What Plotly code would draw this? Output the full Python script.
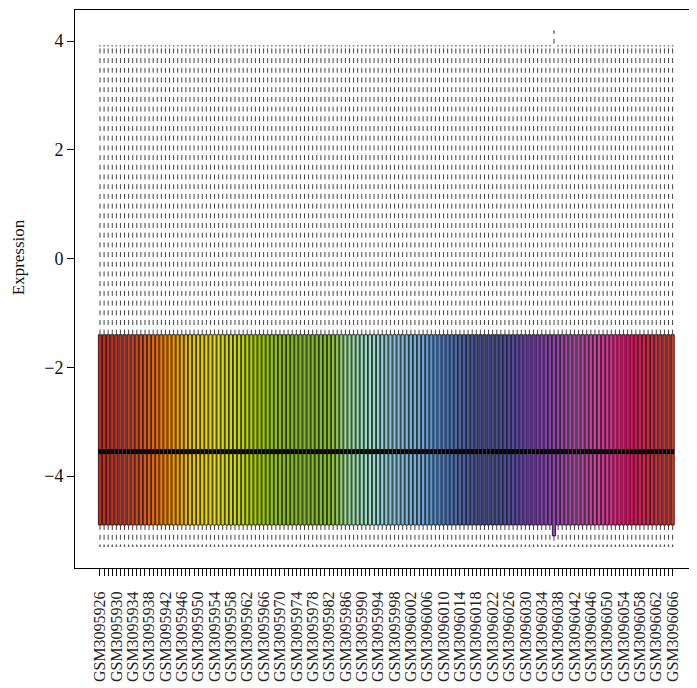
import plotly.graph_objects as go

# ---------------- data ----------------
sample_ids = ["GSM%d" % (3095926 + k) for k in range(141)]

upper_whisker = [
    3.91, 3.91, 3.91, 3.91, 3.91, 3.91, 3.91, 3.91, 3.91, 3.91, 3.91, 3.91, 3.91, 3.91, 3.91, 3.91, 3.91, 3.91, 3.91, 3.91,
    3.91, 3.91, 3.91, 3.91, 3.91, 3.91, 3.91, 3.91, 3.91, 3.91, 3.91, 3.91, 3.91, 3.91, 3.91, 3.91, 3.91, 3.91, 3.91, 3.91,
    3.91, 3.91, 3.91, 3.91, 3.91, 3.91, 3.91, 3.91, 3.91, 3.91, 3.91, 3.91, 3.91, 3.91, 3.91, 3.91, 3.91, 3.91, 3.91, 3.91,
    3.91, 3.91, 3.91, 3.91, 3.91, 3.91, 3.91, 3.91, 3.91, 3.91, 3.91, 3.91, 3.91, 3.91, 3.91, 3.91, 3.91, 3.91, 3.91, 3.91,
    3.91, 3.91, 3.91, 3.91, 3.91, 3.91, 3.91, 3.91, 3.91, 3.91, 3.91, 3.91, 3.91, 3.91, 3.91, 3.91, 3.91, 3.91, 3.91, 3.91,
    3.91, 3.91, 3.91, 3.91, 3.91, 3.91, 3.91, 3.91, 3.91, 3.91, 3.91, 4.18, 3.91, 3.91, 3.91, 3.91, 3.91, 3.91, 3.91, 3.91,
    3.91, 3.91, 3.91, 3.91, 3.91, 3.91, 3.91, 3.91, 3.91, 3.91, 3.91, 3.91, 3.91, 3.91, 3.91, 3.91, 3.91, 3.91, 3.91, 3.91,
    3.91,
]
q3_vals = [
    -1.40, -1.40, -1.40, -1.40, -1.40, -1.40, -1.40, -1.40, -1.40, -1.40, -1.40, -1.40, -1.40, -1.40, -1.40, -1.40, -1.40, -1.40, -1.40, -1.40,
    -1.40, -1.40, -1.40, -1.40, -1.40, -1.40, -1.40, -1.40, -1.40, -1.40, -1.40, -1.40, -1.40, -1.40, -1.40, -1.40, -1.40, -1.40, -1.40, -1.40,
    -1.40, -1.40, -1.40, -1.40, -1.40, -1.40, -1.40, -1.40, -1.40, -1.40, -1.40, -1.40, -1.40, -1.40, -1.40, -1.40, -1.40, -1.40, -1.40, -1.40,
    -1.40, -1.40, -1.40, -1.40, -1.40, -1.40, -1.40, -1.40, -1.40, -1.40, -1.40, -1.40, -1.40, -1.40, -1.40, -1.40, -1.40, -1.40, -1.40, -1.40,
    -1.40, -1.40, -1.40, -1.40, -1.40, -1.40, -1.40, -1.40, -1.40, -1.40, -1.40, -1.40, -1.40, -1.40, -1.40, -1.40, -1.40, -1.40, -1.40, -1.40,
    -1.40, -1.40, -1.40, -1.40, -1.40, -1.40, -1.40, -1.40, -1.40, -1.40, -1.40, -1.40, -1.40, -1.40, -1.40, -1.40, -1.40, -1.40, -1.40, -1.40,
    -1.40, -1.40, -1.40, -1.40, -1.40, -1.40, -1.40, -1.40, -1.40, -1.40, -1.40, -1.40, -1.40, -1.40, -1.40, -1.40, -1.40, -1.40, -1.40, -1.40,
    -1.40,
]
median_vals = [
    -3.55, -3.55, -3.55, -3.55, -3.55, -3.55, -3.55, -3.55, -3.55, -3.55, -3.55, -3.55, -3.55, -3.55, -3.55, -3.55, -3.55, -3.55, -3.55, -3.55,
    -3.55, -3.55, -3.55, -3.55, -3.55, -3.55, -3.55, -3.55, -3.55, -3.55, -3.55, -3.55, -3.55, -3.55, -3.55, -3.55, -3.55, -3.55, -3.55, -3.55,
    -3.55, -3.55, -3.55, -3.55, -3.55, -3.55, -3.55, -3.55, -3.55, -3.55, -3.55, -3.55, -3.55, -3.55, -3.55, -3.55, -3.55, -3.55, -3.55, -3.55,
    -3.55, -3.55, -3.55, -3.55, -3.55, -3.55, -3.55, -3.55, -3.55, -3.55, -3.55, -3.55, -3.55, -3.55, -3.55, -3.55, -3.55, -3.55, -3.55, -3.55,
    -3.55, -3.55, -3.55, -3.55, -3.55, -3.55, -3.55, -3.55, -3.55, -3.55, -3.55, -3.55, -3.55, -3.55, -3.55, -3.55, -3.55, -3.55, -3.55, -3.55,
    -3.55, -3.55, -3.55, -3.55, -3.55, -3.55, -3.55, -3.55, -3.55, -3.55, -3.55, -3.55, -3.55, -3.55, -3.55, -3.55, -3.55, -3.55, -3.55, -3.55,
    -3.55, -3.55, -3.55, -3.55, -3.55, -3.55, -3.55, -3.55, -3.55, -3.55, -3.55, -3.55, -3.55, -3.55, -3.55, -3.55, -3.55, -3.55, -3.55, -3.55,
    -3.55,
]
q1_vals = [
    -4.90, -4.90, -4.90, -4.90, -4.90, -4.90, -4.90, -4.90, -4.90, -4.90, -4.90, -4.90, -4.90, -4.90, -4.90, -4.90, -4.90, -4.90, -4.90, -4.90,
    -4.90, -4.90, -4.90, -4.90, -4.90, -4.90, -4.90, -4.90, -4.90, -4.90, -4.90, -4.90, -4.90, -4.90, -4.90, -4.90, -4.90, -4.90, -4.90, -4.90,
    -4.90, -4.90, -4.90, -4.90, -4.90, -4.90, -4.90, -4.90, -4.90, -4.90, -4.90, -4.90, -4.90, -4.90, -4.90, -4.90, -4.90, -4.90, -4.90, -4.90,
    -4.90, -4.90, -4.90, -4.90, -4.90, -4.90, -4.90, -4.90, -4.90, -4.90, -4.90, -4.90, -4.90, -4.90, -4.90, -4.90, -4.90, -4.90, -4.90, -4.90,
    -4.90, -4.90, -4.90, -4.90, -4.90, -4.90, -4.90, -4.90, -4.90, -4.90, -4.90, -4.90, -4.90, -4.90, -4.90, -4.90, -4.90, -4.90, -4.90, -4.90,
    -4.90, -4.90, -4.90, -4.90, -4.90, -4.90, -4.90, -4.90, -4.90, -4.90, -4.90, -5.10, -4.90, -4.90, -4.90, -4.90, -4.90, -4.90, -4.90, -4.90,
    -4.90, -4.90, -4.90, -4.90, -4.90, -4.90, -4.90, -4.90, -4.90, -4.90, -4.90, -4.90, -4.90, -4.90, -4.90, -4.90, -4.90, -4.90, -4.90, -4.90,
    -4.90,
]
lower_whisker = [
    -5.29, -5.29, -5.29, -5.29, -5.29, -5.29, -5.29, -5.29, -5.29, -5.29, -5.29, -5.29, -5.29, -5.29, -5.29, -5.29, -5.29, -5.29, -5.29, -5.29,
    -5.29, -5.29, -5.29, -5.29, -5.29, -5.29, -5.29, -5.29, -5.29, -5.29, -5.29, -5.29, -5.29, -5.29, -5.29, -5.29, -5.29, -5.29, -5.29, -5.29,
    -5.29, -5.29, -5.29, -5.29, -5.29, -5.29, -5.29, -5.29, -5.29, -5.29, -5.29, -5.29, -5.29, -5.29, -5.29, -5.29, -5.29, -5.29, -5.29, -5.29,
    -5.29, -5.29, -5.29, -5.29, -5.29, -5.29, -5.29, -5.29, -5.29, -5.29, -5.29, -5.29, -5.29, -5.29, -5.29, -5.29, -5.29, -5.29, -5.29, -5.29,
    -5.29, -5.29, -5.29, -5.29, -5.29, -5.29, -5.29, -5.29, -5.29, -5.29, -5.29, -5.29, -5.29, -5.29, -5.29, -5.29, -5.29, -5.29, -5.29, -5.29,
    -5.29, -5.29, -5.29, -5.29, -5.29, -5.29, -5.29, -5.29, -5.29, -5.29, -5.29, -5.29, -5.29, -5.29, -5.29, -5.29, -5.29, -5.29, -5.29, -5.29,
    -5.29, -5.29, -5.29, -5.29, -5.29, -5.29, -5.29, -5.29, -5.29, -5.29, -5.29, -5.29, -5.29, -5.29, -5.29, -5.29, -5.29, -5.29, -5.29, -5.29,
    -5.29,
]

# x tick labels: every fourth sample is labelled, as in the reference
tick_labels = [s if k % 4 == 0 else "" for k, s in enumerate(sample_ids)]
y_ticks = [-4, -2, 0, 2, 4]
y_title = "Expression"

# ---------------- styling ----------------
palette_stops = [
    (0.00, "#c82418"), (0.04, "#d83020"), (0.07, "#e04a14"), (0.10, "#ec7008"),
    (0.13, "#f09c00"), (0.16, "#f0c400"), (0.20, "#ece000"), (0.24, "#c8d800"),
    (0.28, "#a0c810"), (0.32, "#84c014"), (0.40, "#80c018"), (0.43, "#a0d898"),
    (0.47, "#98e0c8"), (0.51, "#80c8e0"), (0.56, "#70aadc"), (0.59, "#5888c8"),
    (0.62, "#4a6cb4"), (0.66, "#444ea0"), (0.70, "#464ca2"), (0.72, "#5448aa"),
    (0.75, "#7040a8"), (0.78, "#8840b0"), (0.81, "#a840b0"), (0.84, "#c040ac"),
    (0.87, "#d43c9c"), (0.90, "#e02884"), (0.93, "#e01060"), (0.96, "#e02040"),
    (1.00, "#e03420"),
]


def hex2rgb(h):
    h = h.lstrip("#")
    return tuple(int(h[i:i + 2], 16) for i in (0, 2, 4))


def palette(t):
    for (t0, c0), (t1, c1) in zip(palette_stops[:-1], palette_stops[1:]):
        if t0 <= t <= t1:
            f = 0 if t1 == t0 else (t - t0) / (t1 - t0)
            a, b = hex2rgb(c0), hex2rgb(c1)
            return "rgb(%d,%d,%d)" % tuple(round(a[i] + (b[i] - a[i]) * f) for i in range(3))
    return palette_stops[-1][1]


n = len(sample_ids)
xpos = list(range(1, n + 1))
colors = [palette(k / (n - 1)) for k in range(n)]

FONT = "Liberation Serif"
BOXW = 0.8
CAPW = 0.2

fig = go.Figure()

# dashed whiskers
wx, wy = [], []
for x, q1, q3, lo, hi in zip(xpos, q1_vals, q3_vals, lower_whisker, upper_whisker):
    wx += [x, x, None, x, x, None]
    wy += [q3, hi, None, q1, lo, None]
fig.add_trace(go.Scatter(x=wx, y=wy, mode="lines", hoverinfo="skip", showlegend=False,
                         line=dict(color="#444444", width=1, dash="5px,4.7px")))

# whisker caps
cx, cy = [], []
for x, lo, hi in zip(xpos, lower_whisker, upper_whisker):
    cx += [x - CAPW, x + CAPW, None, x - CAPW, x + CAPW, None]
    cy += [hi, hi, None, lo, lo, None]
fig.add_trace(go.Scatter(x=cx, y=cy, mode="lines", hoverinfo="skip", showlegend=False,
                         line=dict(color="#444444", width=1)))

# boxes
for x, name, c, q1, md, q3 in zip(xpos, sample_ids, colors, q1_vals, median_vals, q3_vals):
    fig.add_trace(go.Box(x=[x], q1=[q1], median=[md], q3=[q3], lowerfence=[q1], upperfence=[q3],
                         name=name, width=BOXW, fillcolor=c, showlegend=False,
                         line=dict(color="black", width=0.75), whiskerwidth=0))

# thick medians
mx, my = [], []
for x, md in zip(xpos, median_vals):
    mx += [x - BOXW / 2, x + BOXW / 2, None]
    my += [md, md, None]
fig.add_trace(go.Scatter(x=mx, y=my, mode="lines", hoverinfo="skip", showlegend=False,
                         line=dict(color="black", width=5)))

# the page body adds an 8px offset, so the margins are reduced accordingly
fig.update_layout(
    width=697, height=688,
    margin=dict(l=67, r=8, t=2, b=128),
    paper_bgcolor="white", plot_bgcolor="white",
    font=dict(family=FONT, size=17, color="#111111"),
    showlegend=False,
    boxmode="overlay",
)
fig.update_xaxes(
    range=[-5.11, 146.96], tickmode="array", tickvals=xpos, ticktext=tick_labels,
    tickangle=-90, ticks="outside", ticklen=7, tickwidth=1, tickcolor="black",
    ticklabelstandoff=9,
    showline=True, linecolor="black", linewidth=1, mirror=True,
    showgrid=False, zeroline=False, tickfont=dict(family=FONT, size=16, color="#222222"),
)
fig.update_yaxes(
    range=[-5.69, 4.57], tickmode="array", tickvals=y_ticks,
    ticks="outside", ticklen=7, tickwidth=1, tickcolor="black",
    showline=True, linecolor="black", linewidth=1, mirror=False,
    showgrid=False, zeroline=False, tickfont=dict(family=FONT, size=18, color="#111111"),
)
fig.add_annotation(text=y_title, xref="paper", yref="paper", x=-0.0916, y=0.557,
                   xanchor="center", yanchor="middle", textangle=-90, showarrow=False,
                   font=dict(family=FONT, size=17, color="#111111"))

fig.write_html("out.html")
